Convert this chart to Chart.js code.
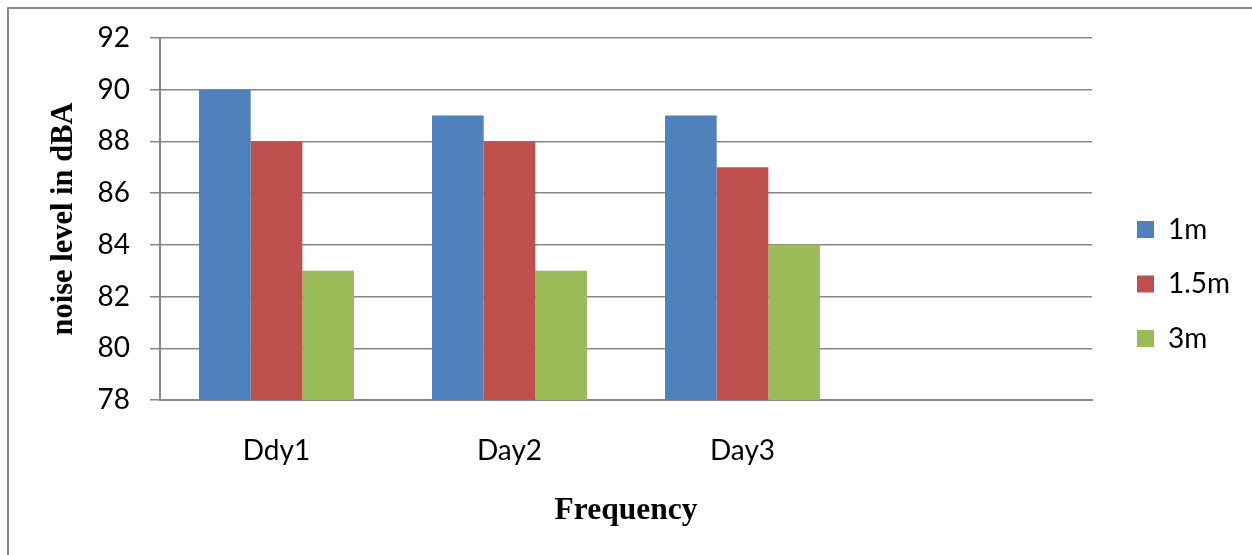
<!DOCTYPE html>
<html>
<head>
<meta charset="utf-8">
<script src="https://cdn.jsdelivr.net/npm/chart.js@4/dist/chart.umd.min.js"></script>
<style>
  html, body { margin: 0; padding: 0; background: #fff; }
  #wrap { position: relative; width: 1252px; height: 555px; overflow: hidden; }
  #frame { position: absolute; left: 7px; top: 7px; width: 1300px; height: 600px;
           border-top: 2px solid #8a8a8a; border-left: 2px solid #8a8a8a; }
  canvas { position: absolute; left: 0; top: 0; }
</style>
</head>
<body>
<div id="wrap">
  <div id="frame"></div>
  <canvas id="c" width="1252" height="555"></canvas>
</div>
<script>
const categories = ['Ddy1', 'Day2', 'Day3', ''];
const series1m = [90, 89, 89, null];
const series15m = [88, 88, 87, null];
const series3m = [83, 83, 84, null];
const seriesNames = ['1m', '1.5m', '3m'];
const yTicks = [78, 80, 82, 84, 86, 88, 90, 92];

const colors = ['#4F81BD', '#C0504D', '#9BBB59'];
const tickFont = { family: 'Lato, "Open Sans", sans-serif', size: 28 };
const yTitleFont = { family: '"Liberation Serif", "Times New Roman", serif', size: 30.5, weight: 'bold' };
const xTitleFont = { family: '"Liberation Serif", "Times New Roman", serif', size: 31.5, weight: 'bold' };

const LEGEND_WIDTH = 160;   // space reserved right of plot
const LEGEND_GAP = 45;      // plot edge to legend boxes
const LEGEND_DY = -12.5;    // vertical nudge of legend

const legendTweak = {
  id: 'legendTweak',
  afterInit(chart) {
    const lg = chart.legend;
    const fit = lg.fit;
    lg.fit = function () { fit.call(this); this.width = LEGEND_WIDTH; };
  },
  afterLayout(chart) {
    const lg = chart.legend;
    const pad = lg.options.labels.padding;
    const dx = (chart.chartArea.right + LEGEND_GAP) - (lg.left + pad);
    lg.left += dx; lg.right += dx;
    lg.top += LEGEND_DY; lg.bottom += LEGEND_DY;
  }
};

new Chart(document.getElementById('c'), {
  type: 'bar',
  data: {
    labels: categories,
    datasets: [series1m, series15m, series3m].map((d, i) => ({
      label: seriesNames[i],
      data: d,
      backgroundColor: colors[i],
      borderWidth: 0,
      categoryPercentage: 0.665,
      barPercentage: 1.0
    }))
  },
  plugins: [legendTweak],
  options: {
    responsive: false,
    animation: false,
    devicePixelRatio: 1,
    layout: { padding: { top: 38, right: 0, bottom: 0, left: 0 } },
    plugins: {
      tooltip: { enabled: false },
      legend: {
        position: 'right',
        align: 'center',
        labels: {
          font: tickFont,
          color: '#000',
          boxWidth: 17,
          boxHeight: 17,
          padding: 26.5
        }
      }
    },
    scales: {
      x: {
        grid: { display: true, drawOnChartArea: false, drawTicks: false },
        border: { display: true, color: '#878787', width: 2 },
        ticks: { font: tickFont, color: '#000', padding: 34, maxRotation: 0 },
        title: { display: true, text: 'Frequency', font: xTitleFont, color: '#000', padding: { top: 0, bottom: 25 } },
        afterFit: s => { s.height = 155; }
      },
      y: {
        min: 78, max: 92,
        afterBuildTicks: s => { s.ticks = yTicks.map(v => ({ value: v })); },
        grid: { color: '#878787', lineWidth: 1.5, tickLength: 10, drawTicks: true },
        border: { display: true, color: '#878787', width: 2 },
        ticks: { font: tickFont, color: '#000', padding: 20 },
        title: { display: true, text: 'noise level in dBA', font: yTitleFont, color: '#000', padding: { top: 46, bottom: 0 } },
        afterFit: s => { s.width = 160; }
      }
    }
  }
});
</script>
</body>
</html>
